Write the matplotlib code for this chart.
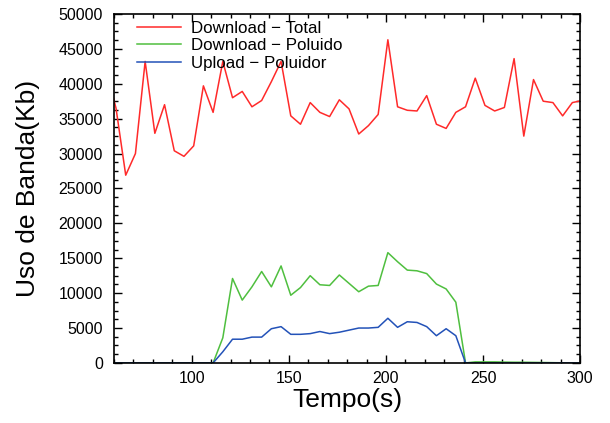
import numpy as np
import matplotlib.pyplot as plt
from matplotlib.ticker import MultipleLocator

plt.rcParams['font.family'] = ['Liberation Sans', 'DejaVu Sans']

# tempo (s), um ponto a cada 5 s
tempo = np.arange(56, 302, 5)

download_total = [42000, 36500, 26900, 30000, 43200, 32900, 37000, 30400, 29600, 31100,
                  39700, 35900, 43200, 38000, 38900, 36700, 37600, 40300, 43200, 35400,
                  34200, 37300, 35900, 35300, 37700, 36400, 32800, 34000, 35600, 46300,
                  36700, 36200, 36100, 38300, 34200, 33600, 35900, 36700, 40800, 36900,
                  36100, 36600, 43600, 32500, 40600, 37500, 37300, 35400, 37300, 37600]

download_poluido = [0, 0, 0, 0, 0, 0, 0, 0, 0, 0,
                    0, 0, 3600, 12100, 9000, 10900, 13100, 10900, 13900, 9700,
                    10800, 12500, 11200, 11100, 12600, 11400, 10200, 11000, 11100, 15800,
                    14500, 13300, 13200, 12800, 11300, 10600, 8700, 0, 150, 150,
                    150, 120, 100, 100, 80, 60, 40, 20, 0, 0]

upload_poluidor = [0, 0, 0, 0, 0, 0, 0, 0, 0, 0,
                   0, 0, 1600, 3400, 3400, 3700, 3700, 4900, 5200, 4100,
                   4100, 4200, 4500, 4200, 4400, 4700, 5000, 5000, 5100, 6400,
                   5100, 5900, 5800, 5200, 3900, 4900, 3900, 0, 0, 0,
                   0, 0, 0, 0, 0, 0, 0, 0, 0, 0]

fig = plt.figure(figsize=(6.10, 4.23), dpi=100)
ax = fig.add_axes([0.187, 0.142, 0.764, 0.825])

ax.plot(tempo, download_total, color='#ff2a2a', lw=1.1, label='Download \u2212 Total')
ax.plot(tempo, download_poluido, color='#4fbf3f', lw=1.1, label='Download \u2212 Poluido')
ax.plot(tempo, upload_poluidor, color='#2352b8', lw=1.1, label='Upload \u2212 Poluidor')

ax.set_xlim(60, 300)
ax.set_ylim(0, 50000)
ax.xaxis.set_major_locator(MultipleLocator(50))
ax.xaxis.set_minor_locator(MultipleLocator(10))
ax.yaxis.set_major_locator(MultipleLocator(5000))
ax.yaxis.set_minor_locator(MultipleLocator(1250))
ax.tick_params(which='both', direction='in', top=True, right=True, labelsize=11.5)
ax.tick_params(which='major', length=6, width=1)
ax.tick_params(which='minor', length=3, width=1)
ax.tick_params(axis='y', which='major', pad=8)
ax.tick_params(axis='x', which='major', pad=6)
for s in ax.spines.values():
    s.set_linewidth(1.2)

ax.set_xlabel('Tempo(s)', fontsize=19, labelpad=1)
ax.set_ylabel('Uso de Banda(Kb)', fontsize=19, labelpad=13)

ax.legend(loc='upper left', frameon=False, fontsize=12.2, handlelength=2.6,
          handletextpad=0.6, labelspacing=0.15, borderaxespad=0.0,
          bbox_to_anchor=(0.035, 1.0))

fig.savefig('out.png', dpi=100)
